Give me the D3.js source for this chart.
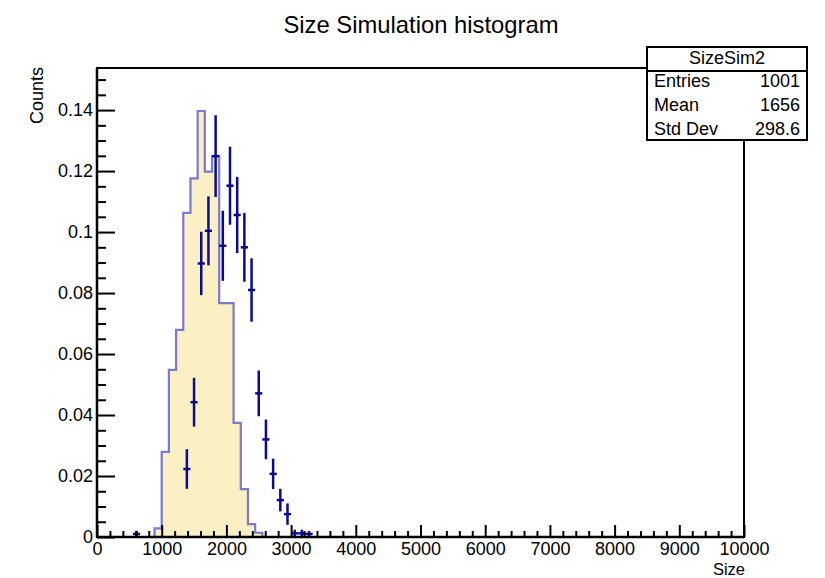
<!DOCTYPE html>
<html><head><meta charset="utf-8">
<script src="https://cdn.jsdelivr.net/npm/d3@7"></script>
<style>
body{margin:0;background:#fff;}
svg{display:block;}
text{font-family:"Liberation Sans",Arial,Helvetica,sans-serif;fill:#000;}
</style>
</head><body>
<svg id="c" width="825" height="578"></svg>
<script>
// ---- data ----
const chartTitle = "Size Simulation histogram";
const xTitle = "Size";
const yTitle = "Counts";
const histName = "SizeSim2";
const statLabels = ["Entries", "Mean", "Std Dev"];
const statValues = ["1001", "1656", "298.6"];
const binRange = [0, 10000];
const nBins = 90;
const yRange = [0, 0.1538];
// filled (simulation) histogram, bins 0..34 (rest empty)
const simCounts = [0,0,0,0,0,0,0,0,0.0028,0.0279,0.0548,0.0679,0.1063,0.1176,0.1397,0.1198,0.1249,0.0767,0.0767,0.0374,0.0157,0.0042,0.0014,0,0,0,0,0,0,0,0,0,0,0,0];
// points with error bars, bins 0..34
const dataCounts = [0,0,0,0,0,0.0010,0,0,0,0,0,0,0.0223,0.0442,0.0897,0.1004,0.1249,0.0955,0.1152,0.1056,0.0950,0.0810,0.0471,0.0320,0.0207,0.0121,0.0075,0.0012,0.0012,0.0010,0,0,0,0,0];
const dataErrors = [0,0,0,0,0,0.0010,0,0,0,0,0,0,0.0065,0.0080,0.0104,0.0113,0.0134,0.0115,0.0128,0.0125,0.0113,0.0104,0.0075,0.0065,0.0050,0.0037,0.0035,0.0012,0.0012,0.0010,0,0,0,0,0];
const xTickValues = [0,1000,2000,3000,4000,5000,6000,7000,8000,9000,10000];
const xMinorStep = 200;
const yTickValues = [0,0.02,0.04,0.06,0.08,0.10,0.12,0.14];
const yMinorStep = 0.005;

// ---- drawing ----
const svg = d3.select("#c");
const L = 97, R = 744, T = 68, B = 537;
const x = d3.scaleLinear().domain(binRange).range([L, R]);
const y = d3.scaleLinear().domain(yRange).range([B, T]);
const bw = (binRange[1] - binRange[0]) / nBins;
const edge = i => binRange[0] + i * bw;

// filled histogram
const pts = [{e: edge(0), v: 0}];
simCounts.forEach((v, i) => pts.push({e: edge(i), v}));
pts.push({e: edge(simCounts.length), v: 0});
const area = d3.area().curve(d3.curveStepAfter)
  .x(d => x(d.e)).y0(y(0)).y1(d => y(d.v));
const line = d3.line().curve(d3.curveStepAfter)
  .x(d => x(d.e)).y(d => y(d.v));
svg.append("path").attr("d", area(pts)).attr("fill", "#fbefc4");
svg.append("path").attr("d", line(pts)).attr("fill", "none")
  .attr("stroke", "#5a5acb").attr("stroke-opacity", 0.8).attr("stroke-width", 2.2);

// error-bar points
const pg = svg.append("g").attr("stroke", "#0b0b90").attr("stroke-width", 2.5);
dataCounts.forEach((v, i) => {
  if (v <= 0) return;
  const c = edge(i) + bw / 2, e = dataErrors[i];
  pg.append("line").attr("x1", x(edge(i))).attr("x2", x(edge(i + 1)))
    .attr("y1", y(v)).attr("y2", y(v));
  pg.append("line").attr("x1", x(c)).attr("x2", x(c))
    .attr("y1", y(Math.max(0, v - e))).attr("y2", y(v + e));
});

// frame
svg.append("rect").attr("x", L).attr("y", T).attr("width", R - L).attr("height", B - T)
  .attr("fill", "none").attr("stroke", "#000").attr("stroke-width", 2);

// axes
const fmt = d => String(+(+d).toFixed(3));
const xMinor = d3.range(binRange[0], binRange[1] + 1, xMinorStep).filter(v => v % 1000 !== 0);
const yMinor = d3.range(0, yRange[1], yMinorStep).map(v => +v.toFixed(4)).filter(v => Math.abs(v / 0.02 - Math.round(v / 0.02)) > 1e-6);

const gx = svg.append("g").attr("transform", `translate(0,${B})`)
  .call(d3.axisBottom(x).tickValues(xTickValues).tickSize(-12).tickPadding(5).tickFormat(fmt));
const gxm = svg.append("g").attr("transform", `translate(0,${B})`)
  .call(d3.axisBottom(x).tickValues(xMinor).tickSize(-6).tickFormat(""));
const gy = svg.append("g").attr("transform", `translate(${L},0)`)
  .call(d3.axisLeft(y).tickValues(yTickValues).tickSize(-18).tickPadding(4).tickFormat(fmt));
const gym = svg.append("g").attr("transform", `translate(${L},0)`)
  .call(d3.axisLeft(y).tickValues(yMinor).tickSize(-9).tickFormat(""));
[gx, gxm, gy, gym].forEach(g => {
  g.select(".domain").remove();
  g.selectAll(".tick line").attr("stroke", "#000").attr("stroke-width", 2);
  g.selectAll("text").attr("font-size", 18).attr("font-family", "Liberation Sans, Arial, sans-serif").attr("fill", "#000");
});
svg.append("line").attr("x1", L).attr("x2", R).attr("y1", B).attr("y2", B).attr("stroke", "#000").attr("stroke-width", 2.5);
svg.append("line").attr("x1", L).attr("x2", L).attr("y1", T).attr("y2", B).attr("stroke", "#000").attr("stroke-width", 2.5);

// titles
svg.append("text").attr("x", 421).attr("y", 33).attr("text-anchor", "middle")
  .attr("font-size", 23.8).text(chartTitle);
svg.append("text").attr("x", 745).attr("y", 574.5).attr("text-anchor", "end")
  .attr("font-size", 16.5).text(xTitle);
svg.append("text").attr("transform", "translate(42.5,67) rotate(-90)").attr("text-anchor", "end")
  .attr("font-size", 18).text(yTitle);

// stats box
const sb = {x: 647, y: 47, w: 160, h: 93, head: 24};
svg.append("rect").attr("x", sb.x).attr("y", sb.y).attr("width", sb.w).attr("height", sb.h)
  .attr("fill", "#fff").attr("stroke", "#000").attr("stroke-width", 2);
svg.append("line").attr("x1", sb.x).attr("x2", sb.x + sb.w).attr("y1", sb.y + sb.head).attr("y2", sb.y + sb.head)
  .attr("stroke", "#000").attr("stroke-width", 2);
svg.append("text").attr("x", sb.x + sb.w / 2).attr("y", 63.5).attr("text-anchor", "middle")
  .attr("font-size", 18).text(histName);
const rowY = [87, 111, 134.5];
statLabels.forEach((s, i) => {
  svg.append("text").attr("x", sb.x + 7).attr("y", rowY[i]).attr("font-size", 18).text(s);
  svg.append("text").attr("x", sb.x + sb.w - 7).attr("y", rowY[i]).attr("text-anchor", "end")
    .attr("font-size", 18).text(statValues[i]);
});
</script>
</body></html>
